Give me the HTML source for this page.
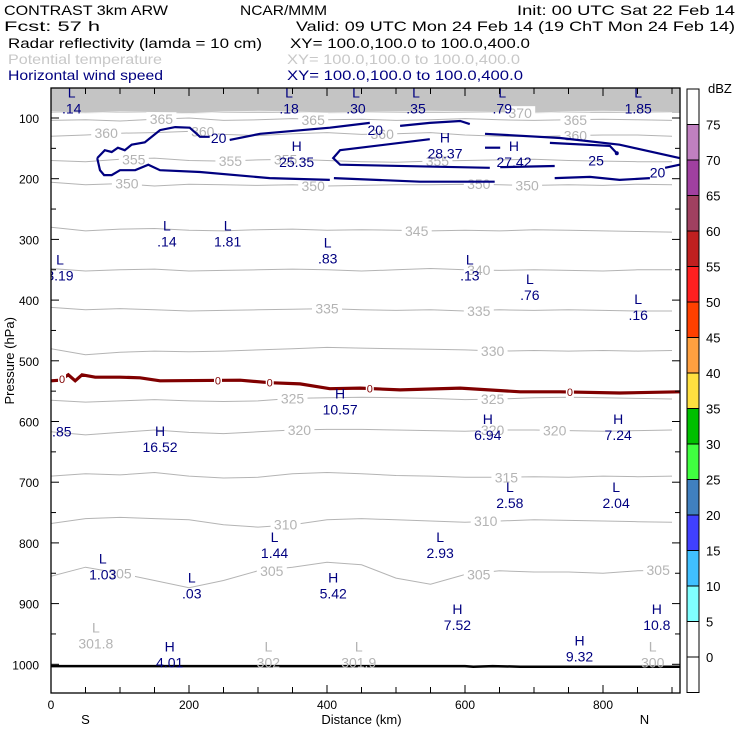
<!DOCTYPE html>
<html><head><meta charset="utf-8">
<style>
body{margin:0;background:#fff;}
svg{display:block;font-family:"Liberation Sans",sans-serif;}
</style></head>
<body>
<svg id="chart" width="740" height="740" viewBox="0 0 740 740">
<g font-size="14" fill="#000">
<text x="4" y="15" textLength="164" lengthAdjust="spacingAndGlyphs">CONTRAST  3km ARW</text>
<text x="240" y="15" textLength="87" lengthAdjust="spacingAndGlyphs">NCAR/MMM</text>
<text x="517" y="15" textLength="218" lengthAdjust="spacingAndGlyphs">Init: 00 UTC Sat 22 Feb 14</text>
<text x="4" y="31" textLength="96" lengthAdjust="spacingAndGlyphs">Fcst:    57 h</text>
<text x="296" y="31" textLength="439" lengthAdjust="spacingAndGlyphs">Valid: 09 UTC Mon 24 Feb 14 (19 ChT Mon 24 Feb 14)</text>
<text x="8" y="48" textLength="254" lengthAdjust="spacingAndGlyphs">Radar reflectivity (lamda = 10 cm)</text>
<text x="290" y="48" textLength="240" lengthAdjust="spacingAndGlyphs">XY= 100.0,100.0 to 100.0,400.0</text>
<text x="8" y="64" fill="#c8c8c8" textLength="154" lengthAdjust="spacingAndGlyphs">Potential temperature</text>
<text x="287" y="64" fill="#c8c8c8" textLength="233" lengthAdjust="spacingAndGlyphs">XY= 100.0,100.0 to 100.0,400.0</text>
<text x="8" y="80" fill="#000080" textLength="155" lengthAdjust="spacingAndGlyphs">Horizontal wind speed</text>
<text x="287" y="80" fill="#000080" textLength="236" lengthAdjust="spacingAndGlyphs">XY= 100.0,100.0 to 100.0,400.0</text>
</g>
<g id="plot"></g>
<g id="cbar"></g>
</svg>
<script>
// ---- data ----
const kmSamples=[0,50,100,150,200,250,300,350,400,450,500,550,600,650,700,750,800,850,900];
const thetaLevels=[370,365,360,355,350,345,340,335,330,325,320,315,310,305];
const thetaPressure=[
[90,92,90,91,93,90,89,90,92,91,90,89,90,91,92,90,89,90,91],
[104,103,105,102,100,104,103,101,103,102,104,103,101,103,104,103,102,103,104],
[130,128,125,124,122,127,129,126,124,127,126,124,128,130,131,129,128,128,130],
[170,172,168,166,170,171,169,168,170,172,173,171,170,169,168,170,171,172,172],
[206,210,208,212,209,210,211,210,212,211,210,210,209,210,211,210,211,209,210],
[280,286,283,282,285,286,284,283,285,284,285,286,285,286,284,285,286,287,288],
[348,352,350,349,352,351,350,349,350,352,350,348,350,351,350,351,352,350,350],
[412,416,414,416,418,417,416,415,414,416,417,416,418,416,417,416,417,418,418],
[480,490,486,484,485,484,482,480,478,479,480,481,482,484,483,484,483,484,483],
[565,568,566,564,566,567,566,562,561,560,561,562,564,563,561,560,561,562,563],
[617,622,618,614,618,620,617,614,613,613,614,615,616,614,614,615,616,615,614],
[690,686,688,684,690,693,692,686,684,686,689,690,692,692,691,692,690,691,690],
[768,760,758,760,762,770,774,770,762,760,762,764,766,764,762,763,764,765,766],
[855,840,850,862,874,862,846,840,832,836,858,868,852,846,848,848,850,846,845]];
const thetaLabelKm=[[680],[160,380,760],[80,220,480,760],[120,260,340,560],[110,380,620,690],[530],[620],[620,400],[640],[350,640],[360,640,730],[660],[340,630],[100,320,620,880]];
const windSegments=[
[[67,166],[78,153],[88,156],[97,149],[107,153],[117,144],[136,140],[158,120],[180,115],[201,116],[216,131],[230,131]],
[[259,136],[303,126],[404,116],[462,108]],
[[506,113],[549,108],[593,105],[607,110]],
[[629,126],[738,133],[824,144],[911,166]],
[[67,166],[71,186],[77,194],[88,194],[100,186],[122,186],[141,177],[158,186],[216,189],[317,199],[404,202]],
[[410,199],[535,205],[643,205]],
[[730,199],[781,197],[824,202],[868,199]],
[[890,182],[911,177]],
[[549,135],[419,153],[409,166],[419,177],[636,182]],
[[629,149],[651,149]],
[[723,141],[810,146],[820,158]],
[[651,181],[730,179]]];
const windLabels=[["20",243,133],["20",470,120],["20",879,190],["25",790,170]];
const zeroKm=[0,13,25,35,45,64,100,129,158,274,317,361,404,448,506,593,680,738,824,911];
const zeroP=[533,532,523,533,523,527,527,528,533,532,536,538,546,545,548,545,551,551,553,551];
const zeroLabelKm=[16,242,317,462,752];
const extrema=[
["L",".14",30,58,"w"],["L",".18",345,58,"w"],["L",".30",442,58,"w"],["L",".35",529,58,"w"],["L",".79",654,58,"w"],["L","1.85",851,58,"w"],
["H","25.35",356,146,"w"],["H","28.37",571,132,"w"],["H","27.42",671,146,"w"],
["L",".14",168,277,"w"],["L","1.81",256,277,"w"],["L",".83",401,305,"w"],["L","3.19",13,333,"w"],["L",".13",607,333,"w"],["L",".76",694,365,"w"],["L",".16",851,398,"w"],
["H","10.57",419,554,"w"],["H","6.94",633,596,"w"],["H","7.24",822,596,"w"],["H","16.52",158,616,"w"],["","5.85",0,0,"w"],
["L","2.58",665,708,"w"],["L","2.04",819,708,"w"],["L","1.44",324,790,"w"],["L","2.93",564,790,"w"],["L","1.03",75,826,"w"],["L",".03",204,857,"w"],["H","5.42",409,857,"w"],
["H","7.52",589,909,"w"],["H","10.8",878,909,"w"],["H","4.01",172,971,"w"],["H","9.32",766,961,"w"],
["L","301.8",65,939,"t"],["L","302",315,971,"t"],["L","301.9",446,971,"t"],["L","300",872,971,"t"]];
const xTickLabels=[0,200,400,600,800];
const yTickLabels=[100,200,300,400,500,600,700,800,900,1000];
const surfaceKm=[0,600,612,640,680,911];
const surfaceP=[1003,1003,1004,1003,1004,1004];
const cbarLevels=[75,70,65,60,55,50,45,40,35,30,25,20,15,10,5,0];
const cbarColors=["#ffffff","#c080c0","#a040a0","#a04060","#c02020","#ff2020","#ff4000","#ffa040","#ffe040","#00c000","#40ff40","#4080c0","#4040ff","#40c0ff","#80ffff","#ffffff","#ffffff"];

// ---- axes ----
const X0=51,X1=680,Y0=88,Y1=693;
const xs=km=>X0+km*0.69;
const ys=p=>118+(p-100)*0.607;
const NS='http://www.w3.org/2000/svg';
const plot=document.getElementById('plot');
function mk(tag,attrs,parent){const e=document.createElementNS(NS,tag);for(const k in attrs)e.setAttribute(k,attrs[k]);(parent||plot).appendChild(e);return e;}
function txt(s,x,y,attrs,parent){const t=mk('text',Object.assign({x:x,y:y},attrs),parent);t.textContent=s;return t;}
const pts=a=>a.map(q=>xs(q[0]).toFixed(1)+','+ys(q[1]).toFixed(1)).join(' ');

const clip=mk('clipPath',{id:'pc'});mk('rect',{x:X0,y:Y0,width:X1-X0,height:Y1-Y0},clip);
const g=mk('g',{'clip-path':'url(#pc)'});



// top gray band
const band=mk('rect',{x:X0,y:Y0,width:X1-X0,height:25,fill:'#c4c4c4'},g);



// theta contours
thetaLevels.forEach((lev,i)=>{
  const inBand=lev>=370;
  const line=mk('polyline',{points:pts(kmSamples.map((k,j)=>[k,thetaPressure[i][j]])),fill:'none',stroke:inBand?'#eeeeee':'#b4b4b4','stroke-width':1},g);
  
  
  thetaLabelKm[i].forEach(k=>{
    const j=Math.min(Math.round(k/50),18);const p=thetaPressure[i][j];
    const bg=mk('rect',{x:xs(k)-15,y:ys(p)-7,width:30,height:14,fill:'#fff'},g);
    
    
    const t=txt(String(lev),xs(k),ys(p)+5,{'text-anchor':'middle','font-size':14,fill:'#b4b4b4'},g);
    
    
  });
});

// wind contours
windSegments.forEach(seg=>{
  const l=mk('polyline',{points:pts(seg),fill:'none',stroke:'#000080','stroke-width':2.2},g);
  
  
});
windLabels.forEach(w=>{
  const t=txt(w[0],xs(w[1]),ys(w[2])+5,{'text-anchor':'middle','font-size':14,fill:'#000080'},g);
  
  
});
const dot=mk('circle',{cx:xs(820),cy:ys(158),r:2,fill:'#000080'},g);



// zero contour
const zl=mk('polyline',{points:pts(zeroKm.map((k,i)=>[k,zeroP[i]])),fill:'none',stroke:'#800000','stroke-width':3.2},g);


zeroLabelKm.forEach(k=>{
  let i=0;while(i<zeroKm.length-2&&zeroKm[i+1]<k)i++;
  const f=(k-zeroKm[i])/(zeroKm[i+1]-zeroKm[i]);const p=zeroP[i]+f*(zeroP[i+1]-zeroP[i]);
  const bg=mk('rect',{x:xs(k)-4,y:ys(p)-6,width:8,height:12,fill:'#fff'},g);
  
  
  const t=txt('0',xs(k),ys(p)+4,{'text-anchor':'middle','font-size':11,fill:'#800000'},g);
  
  
});

// surface
const sf=mk('polyline',{points:pts(surfaceKm.map((k,i)=>[k,surfaceP[i]])),fill:'none',stroke:'#000','stroke-width':2.5},g);



// extrema labels
extrema.forEach(e=>{
  let x=xs(e[2]),y=ys(e[3]);
  const col=e[4]==='t'?'#b4b4b4':'#000080';
  if(e[0]===''){x=xs(10);y=ys(590);}
  if(e[0]){const a=txt(e[0],x,y+5,{'text-anchor':'middle','font-size':14,fill:col},g);
    
    }
  const b=txt(e[1],x,y+21,{'text-anchor':'middle','font-size':14,fill:col},g);
  
  
});

// frame & ticks
const fr=mk('rect',{x:X0,y:Y0,width:X1-X0,height:Y1-Y0,fill:'none',stroke:'#000','stroke-width':1.3});


for(let k=50;k<911;k+=50){
  const len=(k%200===0)?8:6;
  const t1=mk('line',{x1:xs(k),x2:xs(k),y1:Y1,y2:Y1-len,stroke:'#000'});
  
  
  const t2=mk('line',{x1:xs(k),x2:xs(k),y1:Y0,y2:Y0+len,stroke:'#000'});
  
  
}
for(let p=100;p<=1000;p+=50){
  const len=p%100===0?8:5;
  const t1=mk('line',{x1:X0,x2:X0+len,y1:ys(p),y2:ys(p),stroke:'#000'});
  
  
  const t2=mk('line',{x1:X1,x2:X1-len,y1:ys(p),y2:ys(p),stroke:'#000'});
  
  
}
xTickLabels.forEach(v=>{
  const t=txt(String(v),xs(v),Y1+16,{'text-anchor':'middle','font-size':12});
  
  
});
yTickLabels.forEach(v=>{
  const t=txt(String(v),X0-12,ys(v)+5,{'text-anchor':'end','font-size':12});
  
  
});
let t=txt('Distance (km)',xs(450),Y1+31,{'text-anchor':'middle','font-size':13});


t=txt('S',xs(50),Y1+31,{'text-anchor':'middle','font-size':13});


t=txt('N',xs(860),Y1+31,{'text-anchor':'middle','font-size':13});


t=txt('Pressure (hPa)',0,0,{'text-anchor':'middle','font-size':13,transform:'translate(14,'+ys(500)+') rotate(-90)'});



// colorbar
const cb=document.getElementById('cbar');
const CB0=89,CBH=35.5,CX=687,CW=12;
cbarColors.forEach((c,i)=>{
  const r=mk('rect',{x:CX,y:CB0+i*CBH,width:CW,height:CBH,fill:c,stroke:'#000','stroke-width':1},cb);
  
  
});
cbarLevels.forEach((v,i)=>{
  const tt=txt(String(v),706,CB0+(i+1)*CBH+5,{'font-size':13},cb);
  
  
});
t=txt('dBZ',708,93,{'font-size':13},cb);


</script>
</body></html>
